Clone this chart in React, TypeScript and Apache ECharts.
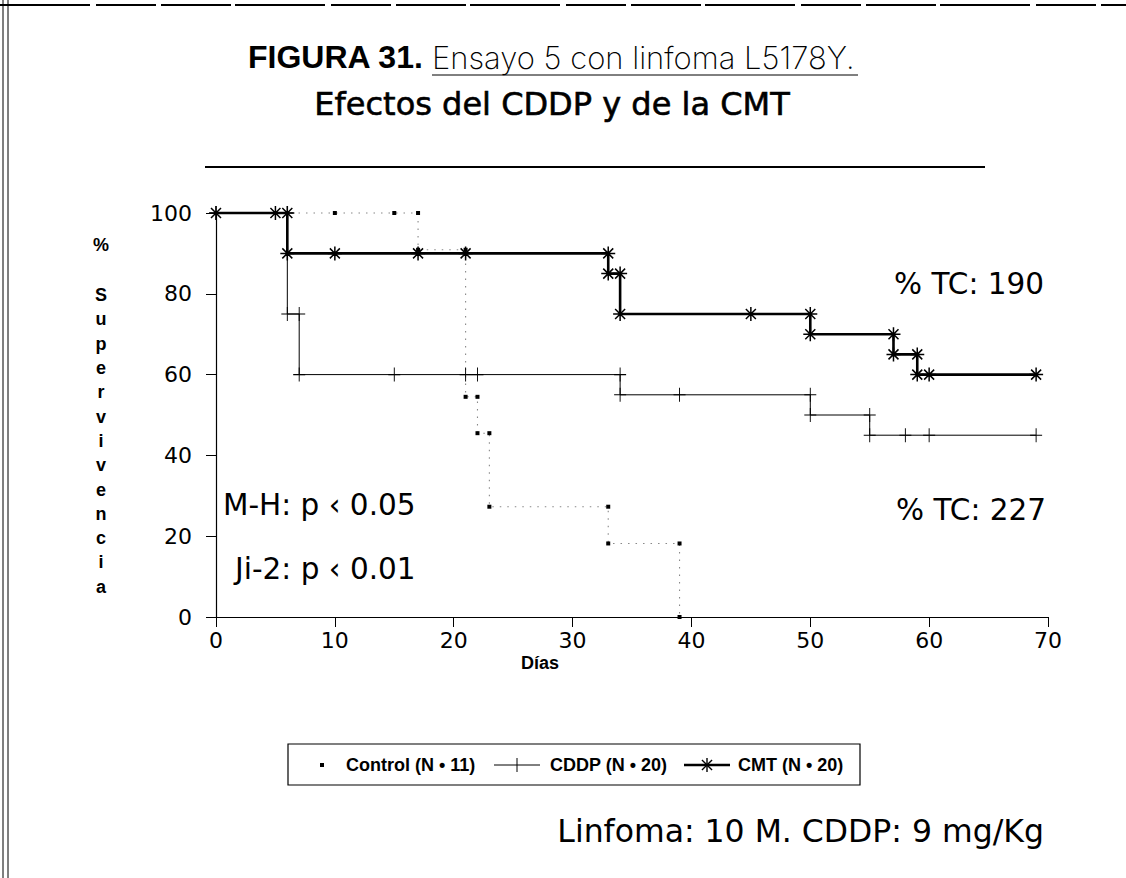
import React, { useEffect, useRef } from "react";
import * as echarts from "echarts";

// ---- data ----
const seriesNames = ["Control (N • 11)", "CDDP (N • 20)", "CMT (N • 20)"];
const controlDays = [0, 5, 6, 10, 15, 17, 17, 21, 21, 22, 22, 23, 23, 33, 33, 39, 39];
const controlSurv = [100, 100, 100, 100, 100, 100, 90.9, 90.9, 54.5, 54.5, 45.5, 45.5, 27.3, 27.3, 18.2, 18.2, 0];
const cddpDays = [0, 6, 6, 7, 7, 15, 21, 22, 34, 34, 39, 50, 50, 55, 55, 58, 60, 69];
const cddpSurv = [100, 100, 75, 75, 60, 60, 60, 60, 60, 55, 55, 55, 50, 50, 45, 45, 45, 45];
const cmtDays = [0, 5, 6, 6, 10, 17, 21, 33, 33, 34, 34, 45, 50, 50, 57, 57, 59, 59, 60, 69];
const cmtSurv = [100, 100, 100, 90, 90, 90, 90, 90, 85, 85, 75, 75, 75, 70, 70, 65, 65, 60, 60, 60];
const xRange = [0, 70, 10];
const yRange = [0, 100, 20];
const titleBold = "FIGURA 31.";
const titleLight = "Ensayo 5 con linfoma L5178Y.";
const titleLine2 = "Efectos del CDDP y de la CMT";
const yTitlePct = "%";
const yTitleWord = "Supervivencia";
const xTitle = "Días";
const tc190 = "% TC: 190";
const tc227 = "% TC: 227";
const mh = "M-H: p ‹ 0.05";
const ji2 = "Ji-2: p ‹ 0.01";
const footer = "Linfoma: 10 M. CDDP: 9 mg/Kg";

const DV = "'DejaVu Sans', sans-serif";
const LIB = "'Liberation Sans', Arial, sans-serif";

const PLUS = "path://M0,7L12,7M6,0L6,14";
const STAR = "path://M7,0L7,14M0,7L14,7M2,2L12,12M2,12L12,2";

const pairs = (xs: number[], ys: number[]) => xs.map((x, i) => [x, ys[i]]);

function starGroup(cx: number, cy: number, r: number) {
  const d = r * 0.72;
  const st = { stroke: "#000", lineWidth: 1.4 };
  return [
    { type: "line", shape: { x1: cx, y1: cy - r, x2: cx, y2: cy + r }, style: st },
    { type: "line", shape: { x1: cx - r, y1: cy, x2: cx + r, y2: cy }, style: st },
    { type: "line", shape: { x1: cx - d, y1: cy - d, x2: cx + d, y2: cy + d }, style: st },
    { type: "line", shape: { x1: cx - d, y1: cy + d, x2: cx + d, y2: cy - d }, style: st },
  ];
}

export default function App() {
  const ref = useRef<HTMLDivElement>(null);
  useEffect(() => {
    document.body.style.margin = "0";
    const chart = echarts.init(ref.current!, null, { renderer: "svg" });
    const axisCommon = {
      type: "value",
      axisLine: { show: true, lineStyle: { color: "#000", width: 1.2 } },
      axisTick: { show: true, length: 10, lineStyle: { color: "#000", width: 1 } },
      splitLine: { show: false },
    };
    const legY = 765;
    const legFont = { fontSize: 18, fontWeight: "bold", fontFamily: LIB, fill: "#000", align: "left", verticalAlign: "middle" };
    const annFont = { fontSize: 29.5, fontFamily: DV, fill: "#000", verticalAlign: "middle" };
    const option: any = {
      animation: false,
      backgroundColor: "#fff",
      grid: { left: 216, top: 213, width: 832, height: 404 },
      xAxis: {
        ...axisCommon,
        min: xRange[0],
        max: xRange[1],
        interval: xRange[2],
        axisLabel: { color: "#000", fontSize: 22, fontFamily: DV, margin: 12 },
      },
      yAxis: {
        ...axisCommon,
        min: yRange[0],
        max: yRange[1],
        interval: yRange[2],
        axisLabel: { color: "#000", fontSize: 22, fontFamily: DV, margin: 24 },
      },
      series: [
        {
          name: seriesNames[0],
          type: "line",
          data: pairs(controlDays, controlSurv),
          symbol: "rect",
          symbolSize: 4,
          showAllSymbol: true,
          clip: false,
          lineStyle: { color: "#888", width: 1.1, type: [1.5, 6] },
          itemStyle: { color: "#000" },
          z: 2,
        },
        {
          name: seriesNames[1],
          type: "line",
          data: pairs(cddpDays, cddpSurv),
          symbol: PLUS,
          symbolSize: [12, 14],
          showAllSymbol: true,
          clip: false,
          lineStyle: { color: "#000", width: 1 },
          itemStyle: { color: "#000", borderColor: "#000", borderWidth: 1 },
          z: 3,
        },
        {
          name: seriesNames[2],
          type: "line",
          data: pairs(cmtDays, cmtSurv),
          symbol: STAR,
          symbolSize: 14,
          showAllSymbol: true,
          clip: false,
          lineStyle: { color: "#000", width: 2.6 },
          itemStyle: { color: "#000", borderColor: "#000", borderWidth: 1.5 },
          z: 4,
        },
      ],
      graphic: [
        // scan borders
        { type: "line", shape: { x1: 0, y1: 5, x2: 1126, y2: 5 }, style: { stroke: "#000", lineWidth: 2, lineDash: [90, 6, 60, 5, 70, 4] } },
        { type: "line", shape: { x1: 3, y1: 0, x2: 3, y2: 878 }, style: { stroke: "#000", lineWidth: 1 } },
        { type: "line", shape: { x1: 8, y1: 0, x2: 8, y2: 878 }, style: { stroke: "#000", lineWidth: 1 } },
        // title
        { type: "text", style: { text: titleBold, x: 248, y: 57, fontSize: 32, fontWeight: "bold", fontFamily: LIB, fill: "#000", verticalAlign: "middle", align: "left" } },
        { type: "text", style: { text: titleLight, x: 432, y: 57, fontSize: 31, fontWeight: 200, fontFamily: "Inter, 'Liberation Sans', sans-serif", fill: "#000", verticalAlign: "middle", align: "left" } },
        { type: "line", shape: { x1: 432, y1: 75, x2: 858, y2: 75 }, style: { stroke: "#000", lineWidth: 1 } },
        { type: "text", style: { text: titleLine2, x: 552, y: 104, fontSize: 32, fontFamily: DV, fill: "#000", stroke: "#000", lineWidth: 0.6, verticalAlign: "middle", align: "center" } },
        { type: "line", shape: { x1: 205, y1: 167, x2: 985, y2: 167 }, style: { stroke: "#000", lineWidth: 2 } },
        // axis titles
        { type: "text", style: { text: yTitlePct, x: 101, y: 245, fontSize: 18, fontWeight: "bold", fontFamily: LIB, fill: "#000", align: "center", verticalAlign: "middle" } },
        {
          type: "text",
          style: {
            text: yTitleWord.split("").join("\n"),
            x: 101, y: 283, fontSize: 18, fontWeight: "bold", fontFamily: LIB, fill: "#000",
            align: "center", verticalAlign: "top", lineHeight: 24.3,
          },
        },
        { type: "text", style: { text: xTitle, x: 540, y: 663, fontSize: 18, fontWeight: "bold", fontFamily: LIB, fill: "#000", align: "center", verticalAlign: "middle" } },
        // annotations
        { type: "text", style: { ...annFont, text: tc190, x: 1044, y: 284, align: "right" } },
        { type: "text", style: { ...annFont, text: tc227, x: 1046, y: 510, align: "right" } },
        { type: "text", style: { ...annFont, text: mh, x: 223, y: 505, align: "left" } },
        { type: "text", style: { ...annFont, text: ji2, x: 235, y: 569, align: "left" } },
        // legend
        { type: "rect", shape: { x: 288, y: 744, width: 572, height: 41 }, style: { fill: "none", stroke: "#000", lineWidth: 1.2 } },
        { type: "rect", shape: { x: 320, y: legY - 2, width: 4, height: 4 }, style: { fill: "#000" } },
        { type: "text", style: { ...legFont, text: seriesNames[0], x: 346, y: legY } },
        { type: "line", shape: { x1: 494, y1: legY, x2: 540, y2: legY }, style: { stroke: "#000", lineWidth: 1 } },
        { type: "line", shape: { x1: 517, y1: legY - 7, x2: 517, y2: legY + 7 }, style: { stroke: "#000", lineWidth: 1 } },
        { type: "text", style: { ...legFont, text: seriesNames[1], x: 550, y: legY } },
        { type: "line", shape: { x1: 684, y1: legY, x2: 730, y2: legY }, style: { stroke: "#000", lineWidth: 2.6 } },
        ...starGroup(707, legY, 7),
        { type: "text", style: { ...legFont, text: seriesNames[2], x: 738, y: legY } },
        // footer
        { type: "text", style: { text: footer, x: 1044, y: 831, fontSize: 31.5, fontFamily: DV, fill: "#000", align: "right", verticalAlign: "middle" } },
      ],
    };
    chart.setOption(option);
    return () => chart.dispose();
  }, []);
  return <div ref={ref} style={{ width: 1126, height: 878 }} />;
}
